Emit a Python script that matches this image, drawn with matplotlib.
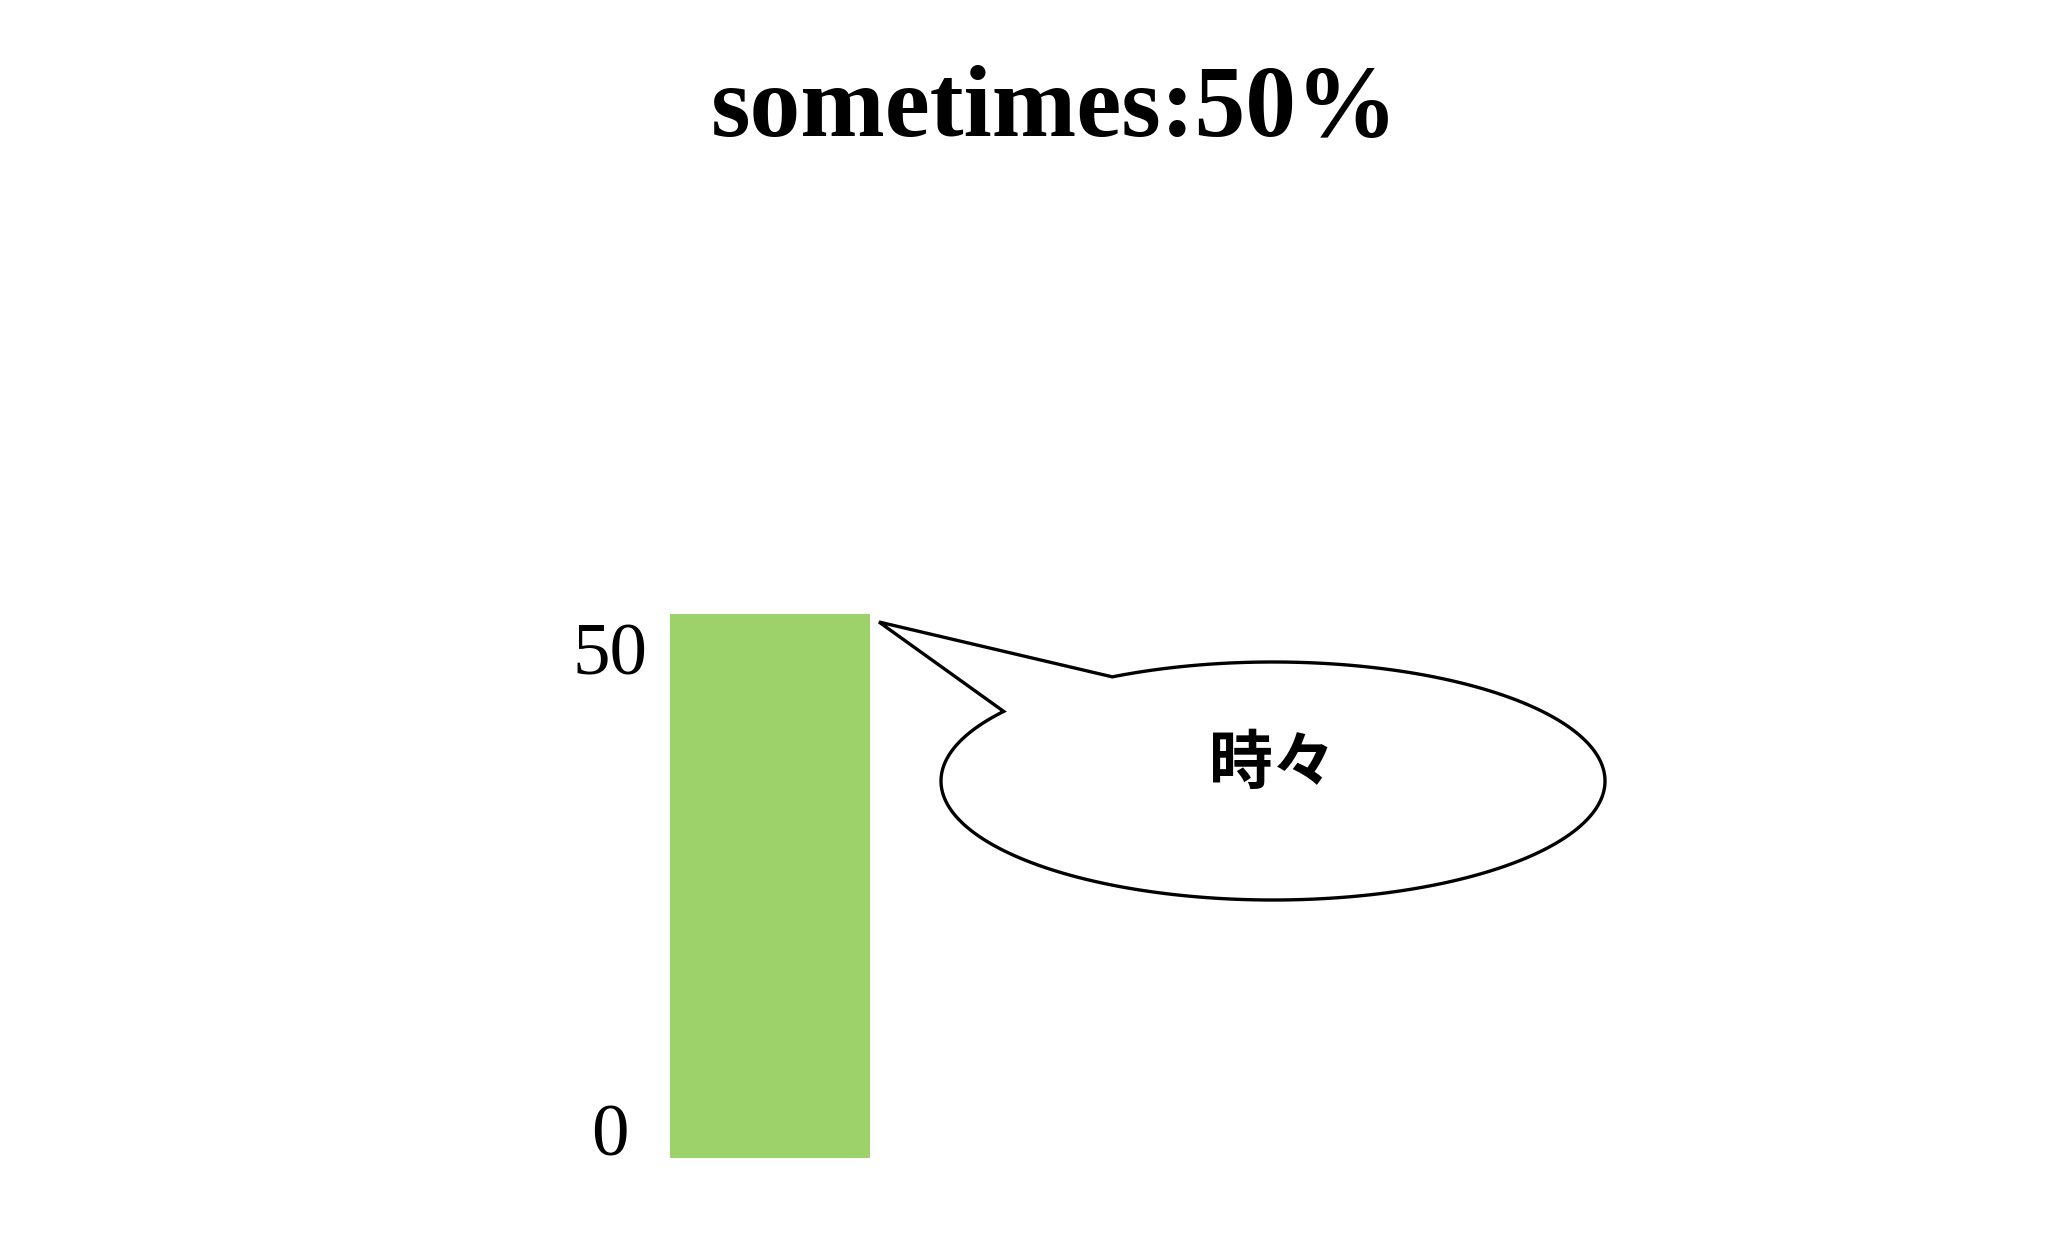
import numpy as np
import matplotlib
matplotlib.use("Agg")
import matplotlib.pyplot as plt
from matplotlib.patches import Polygon
from matplotlib.transforms import ScaledTranslation

# ---- data ----
categories = ["sometimes"]
values = [50]
tick_values = [0, 50]
tick_labels = ["0", "50"]
title_text = "sometimes:50%"
callout_text = "時々"

W, H, DPI = 2048, 1241, 100
fig = plt.figure(figsize=(W / DPI, H / DPI), dpi=DPI)
fig.patch.set_facecolor("white")

# bar axes
left, right, top, bottom = 670, 870, 614, 1158
ax = fig.add_axes([left / W, 1 - bottom / H, (right - left) / W, (bottom - top) / H])
ax.bar(range(len(categories)), values, width=1.0, color="#9CD269", edgecolor="none")
ax.set_xlim(-0.5, 0.5)
ax.set_ylim(0, 50)
for s in ax.spines.values():
    s.set_visible(False)
ax.set_xticks([])
ax.set_yticks(tick_values)
ax.set_yticklabels(tick_labels, fontfamily="Liberation Serif", fontsize=54)
ax.tick_params(axis="y", length=0, pad=43)
for lbl, v in zip(ax.get_yticklabels(), tick_values):
    lbl.set_ha("center")
    if v == max(tick_values):
        lbl.set_va("top")
        lbl.set_transform(lbl.get_transform() + ScaledTranslation(0, -9 / DPI, fig.dpi_scale_trans))
    else:
        lbl.set_va("baseline")
        lbl.set_transform(lbl.get_transform() + ScaledTranslation(0, 3 / DPI, fig.dpi_scale_trans))
ax.set_facecolor("none")

# title
fig.text(1055 / W, 1 - 135 / H, title_text, ha="center", va="baseline",
         fontfamily="Liberation Serif", fontweight="bold", fontsize=73)

# speech bubble overlay (pixel coordinates)
ov = fig.add_axes([0, 0, 1, 1], zorder=5)
ov.set_xlim(0, W)
ov.set_ylim(H, 0)
ov.axis("off")
ov.patch.set_alpha(0)

cx, cy, a, b = 1273, 781, 332, 119
p1 = (1111, 676)
p2 = (1006, 712)
tip = (879, 622)
t1 = np.arctan2((p1[1] - cy) / b, (p1[0] - cx) / a)
t2 = np.arctan2((p2[1] - cy) / b, (p2[0] - cx) / a)
if t2 < t1:
    t2 += 2 * np.pi
t = np.linspace(t1, t2, 400)
pts = np.column_stack([cx + a * np.cos(t), cy + b * np.sin(t)])
pts = np.vstack([pts, [tip]])
ov.add_patch(Polygon(pts, closed=True, facecolor="white", edgecolor="black",
                     linewidth=2.4, joinstyle="miter"))
ov.text(1273, 764, callout_text, ha="center", va="center",
        fontfamily=["Noto Sans CJK JP", "DejaVu Sans"], fontweight="bold", fontsize=46)

fig.savefig("out.png", dpi=DPI)
